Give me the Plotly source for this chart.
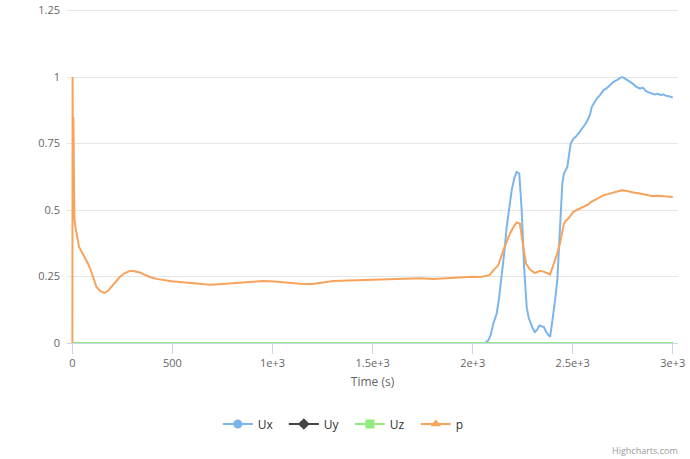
import plotly.graph_objects as go

# ---- data ----
t_ux = [0, 1000, 2000, 2062, 2078, 2090, 2103, 2120, 2132, 2145, 2158, 2170, 2183, 2195, 2208, 2220, 2233,
        2245, 2257, 2270, 2280, 2290, 2300, 2311, 2322, 2333, 2345, 2356, 2365, 2373, 2387, 2395, 2403,
        2413, 2423, 2432, 2440, 2448, 2456, 2465, 2473, 2482, 2490, 2503, 2515, 2528, 2540, 2553, 2565,
        2578, 2587, 2595, 2608, 2620, 2636, 2653, 2670, 2686, 2703, 2720, 2733, 2745, 2758, 2772, 2786,
        2800, 2815, 2836, 2850, 2865, 2880, 2895, 2910, 2925, 2940, 2953, 2965, 2980, 2990, 3000]
ux = [0, 0, 0, 0, 0.01, 0.03, 0.073, 0.11, 0.17, 0.25, 0.34, 0.436, 0.52, 0.574, 0.62, 0.643, 0.637,
      0.499, 0.286, 0.135, 0.095, 0.073, 0.055, 0.041, 0.05, 0.066, 0.062, 0.06, 0.045, 0.035, 0.023, 0.06, 0.11,
      0.17, 0.236, 0.37, 0.499, 0.6, 0.637, 0.65, 0.662, 0.71, 0.75, 0.768, 0.775, 0.787, 0.8, 0.81, 0.825,
      0.844, 0.86, 0.887, 0.905, 0.919, 0.932, 0.95, 0.958, 0.97, 0.981, 0.988, 0.995, 1.0, 0.996, 0.99, 0.981,
      0.975, 0.965, 0.956, 0.96, 0.948, 0.942, 0.938, 0.934, 0.937, 0.932, 0.935, 0.93, 0.928, 0.926, 0.923]

t_uy = [0, 3000]
uy = [0, 0]

t_uz = [0, 3000]
uz = [0, 0]

t_p = [0, 1, 3, 5, 7, 10, 14, 20, 33, 50, 65, 78, 95, 108, 120, 140, 162, 178, 195, 215, 237, 260, 287,
       310, 337, 360, 387, 420, 453, 495, 537, 590, 637, 687, 750, 820, 887, 950, 1010, 1070, 1137, 1200,
       1250, 1303, 1380, 1470, 1570, 1670, 1740, 1803, 1870, 1937, 2000, 2037, 2060, 2083, 2103, 2128,
       2153, 2170, 2186, 2203, 2220, 2236, 2245, 2253, 2267, 2286, 2311, 2324, 2336, 2348, 2361, 2375,
       2387, 2398, 2411, 2424, 2436, 2446, 2456, 2466, 2478, 2490, 2503, 2520, 2536, 2557, 2578, 2590,
       2603, 2628, 2653, 2678, 2703, 2725, 2745, 2765, 2786, 2810, 2836, 2865, 2895, 2925, 2953, 2980, 3000]
p = [0, 1.0, 0.5, 0.85, 0.6, 0.47, 0.44, 0.411, 0.361, 0.338, 0.318, 0.298, 0.267, 0.238, 0.211, 0.195,
     0.188, 0.196, 0.211, 0.23, 0.248, 0.262, 0.271, 0.27, 0.265, 0.257, 0.248, 0.241, 0.236, 0.232, 0.229,
     0.225, 0.221, 0.219, 0.222, 0.226, 0.231, 0.233, 0.231, 0.227, 0.223, 0.222, 0.226, 0.233, 0.235, 0.237,
     0.239, 0.242, 0.243, 0.241, 0.244, 0.249, 0.249, 0.248, 0.25, 0.254, 0.273, 0.292, 0.348, 0.38, 0.411,
     0.435, 0.453, 0.449, 0.41, 0.361, 0.298, 0.276, 0.263, 0.266, 0.271, 0.27, 0.267, 0.262, 0.257, 0.28,
     0.311, 0.34, 0.374, 0.41, 0.449, 0.46, 0.468, 0.48, 0.493, 0.5, 0.505, 0.512, 0.521, 0.53, 0.536,
     0.545, 0.555, 0.56, 0.565, 0.57, 0.574, 0.572, 0.568, 0.565, 0.562, 0.557, 0.553, 0.554, 0.553, 0.551, 0.549]

names = ["Ux", "Uy", "Uz", "p"]
colors = ["#7cb5ec", "#434348", "#90ed7d", "#f7a35c"]
symbols = ["circle", "diamond", "square", "triangle-up"]

x_tickvals = [0, 500, 1000, 1500, 2000, 2500, 3000]
x_ticktext = ["0", "500", "1e+3", "1.5e+3", "2e+3", "2.5e+3", "3e+3"]
y_tickvals = [0, 0.25, 0.5, 0.75, 1, 1.25]
y_ticktext = ["0", "0.25", "0.5", "0.75", "1", "1.25"]

FONT = "Open Sans"

fig = go.Figure()
series = [(t_ux, ux), (t_uy, uy), (t_uz, uz), (t_p, p)]
for (tx, ty), name, col in zip(series, names, colors):
    fig.add_trace(go.Scatter(x=tx, y=ty, mode="lines", name=name, showlegend=False,
                             line=dict(color=col, width=2), hoverinfo="skip"))
for name, col, sym in zip(names, colors, symbols):
    fig.add_trace(go.Scatter(x=[None], y=[None], mode="lines+markers", name=name,
                             line=dict(color=col, width=2),
                             marker=dict(symbol=sym, size=9, color=col)))

fig.update_layout(
    width=690, height=459,
    margin=dict(l=67, r=12, t=8, b=116, autoexpand=False),
    paper_bgcolor="white", plot_bgcolor="white",
    font=dict(family=FONT, size=11, color="#666666"),
    xaxis=dict(range=[-27, 3026], tickvals=x_tickvals, ticktext=x_ticktext, automargin=False,
               showgrid=False, zeroline=False, showline=True, linecolor="#ccd6eb", linewidth=1,
               ticks="outside", ticklen=10, tickcolor="#ccd6eb", tickwidth=1,
               tickfont=dict(family=FONT, size=11, color="#666666"),
               title=dict(text="Time (s)", font=dict(family=FONT, size=12, color="#666666"), standoff=8)),
    yaxis=dict(range=[0, 1.2594], tickvals=y_tickvals, ticktext=y_ticktext, automargin=False,
               showgrid=True, gridcolor="#e6e6e6", gridwidth=1, zeroline=False, showline=False,
               ticks="", ticklabelstandoff=6, ticklabeloverflow="allow",
               tickfont=dict(family=FONT, size=11, color="#666666")),
    legend=dict(orientation="h", xref="container", yref="container",
                x=0.507, xanchor="center", y=0.0763, yanchor="middle",
                font=dict(family=FONT, size=12, color="#333333"),
                entrywidth=21, entrywidthmode="pixels", itemwidth=30),
    annotations=[dict(text="Highcharts.com", xref="paper", yref="paper", x=1.003, y=-0.322,
                      xanchor="right", yanchor="middle", showarrow=False,
                      font=dict(family=FONT, size=9, color="#999999"))],
)

# remove the page's default 8px body margin so the chart fills the window
fig.write_html("out.html", config={"displayModeBar": False},
               post_script="document.body.style.margin='0';")
